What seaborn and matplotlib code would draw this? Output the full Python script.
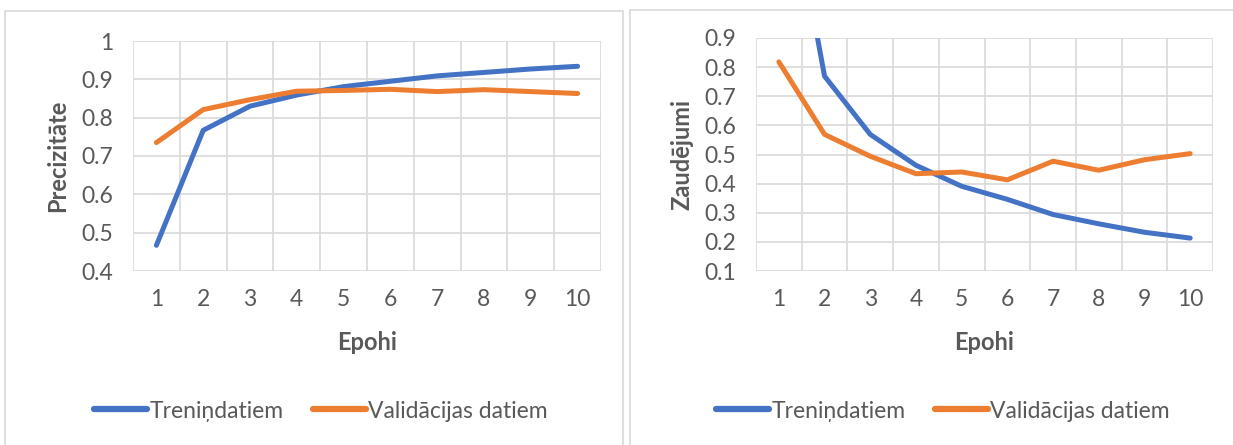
import pandas as pd
import matplotlib.pyplot as plt
import seaborn as sns
from matplotlib.patches import Rectangle

# dati nolasīti no attēla
epohas = [1, 2, 3, 4, 5, 6, 7, 8, 9, 10]
prec_trenins = [0.467, 0.767, 0.830, 0.859, 0.881, 0.895, 0.909, 0.918, 0.927, 0.934]
prec_valid = [0.735, 0.821, 0.847, 0.869, 0.871, 0.874, 0.868, 0.873, 0.868, 0.863]
zaud_trenins = [1.62, 0.769, 0.569, 0.463, 0.391, 0.346, 0.294, 0.262, 0.233, 0.213]
zaud_valid = [0.818, 0.569, 0.494, 0.434, 0.440, 0.413, 0.477, 0.446, 0.482, 0.503]
serijas = ['Treniņdatiem', 'Validācijas datiem']

BLUE = '#4472C4'
ORANGE = '#ED7D31'
GRID = '#D9D9D9'
TXT = '#595959'

sns.set_style('white')
plt.rcParams['font.family'] = ['Lato', 'DejaVu Sans']
plt.rcParams['text.color'] = TXT
plt.rcParams['axes.labelcolor'] = TXT


def long_df(a, b):
    return pd.DataFrame({
        'Epohi': epohas * 2,
        'v': a + b,
        's': [serijas[0]] * len(a) + [serijas[1]] * len(b),
    })


W, H = 1233, 445
fig = plt.figure(figsize=(W / 100, H / 100), dpi=100, facecolor='white')

# rāmji ap abām diagrammām
fig.patches.append(Rectangle((5 / W, -0.1), (623 - 5) / W, 1.1 - 11 / H,
                             transform=fig.transFigure, fill=False, ec=GRID, lw=1.2))
fig.patches.append(Rectangle((630 / W, -0.1), (1240 - 630) / W, 1.1 - 10 / H,
                             transform=fig.transFigure, fill=False, ec=GRID, lw=1.2))


def make_ax(px, df, ylim, yticks, ylabel, lab_x, leg_cx):
    x0, x1, y0, y1 = px
    ax = fig.add_axes([x0 / W, 1 - y1 / H, (x1 - x0) / W, (y1 - y0) / H])
    sns.lineplot(data=df, x='Epohi', y='v', hue='s', palette=[BLUE, ORANGE],
                 linewidth=3.6, ax=ax, legend=False, solid_capstyle='round')
    ax.set_xlim(0.5, 10.5)
    ax.set_ylim(*ylim)
    ax.set_xticks(epohas)
    ax.set_xticks([e - 0.5 for e in epohas] + [10.5], minor=True)
    ax.set_yticks(yticks)
    ax.set_yticklabels([f'{t:g}' for t in yticks])
    ax.grid(False)
    ax.grid(True, which='minor', axis='x', color=GRID, lw=1.2)
    ax.grid(True, which='major', axis='y', color=GRID, lw=1.2)
    for s in ax.spines.values():
        s.set_visible(False)
    ax.tick_params(axis='both', which='both', length=0, labelsize=16.5, colors=TXT)
    ax.tick_params(axis='y', pad=14)
    ax.tick_params(axis='x', pad=13)
    ax.set_xlabel('Epohi', fontsize=17, fontweight='bold', va='center')
    ax.xaxis.set_label_coords(0.5, -(343 - y1) / (y1 - y0))
    ax.set_ylabel(ylabel, fontsize=17, fontweight='bold', va='center')
    ax.yaxis.set_label_coords(-(x0 - lab_x) / (x1 - x0), 0.5)
    handles = [plt.Line2D([], [], color=BLUE, lw=4.5, solid_capstyle='round'),
               plt.Line2D([], [], color=ORANGE, lw=4.5, solid_capstyle='round')]
    fig.legend(handles, serijas, loc='center', bbox_to_anchor=(leg_cx / W, 1 - 411 / H),
               ncol=2, frameon=False, fontsize=16.5, handlelength=2.3,
               handletextpad=0.1, columnspacing=1.3)
    return ax


make_ax((133, 601, 41, 271), long_df(prec_trenins, prec_valid),
        (0.4, 1.0), [0.4, 0.5, 0.6, 0.7, 0.8, 0.9, 1.0], 'Precizitāte', 58, 321)
make_ax((756, 1213, 38, 271), long_df(zaud_trenins, zaud_valid),
        (0.1, 0.9), [0.1, 0.2, 0.3, 0.4, 0.5, 0.6, 0.7, 0.8, 0.9], 'Zaudējumi', 682, 943)

fig.savefig('out.png', dpi=100, facecolor='white')
